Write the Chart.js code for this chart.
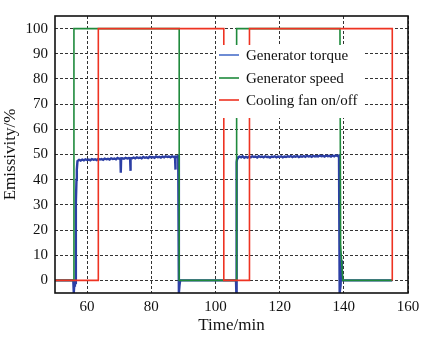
<!DOCTYPE html>
<html>
<head>
<meta charset="utf-8">
<script src="https://cdn.jsdelivr.net/npm/chart.js@4.4.0/dist/chart.umd.min.js"></script>
<style>
    html, body { margin: 0; padding: 0; background: #fff; }
    #wrap { width: 433px; height: 342px; }
</style>
</head>
<body>
<div id="wrap"><canvas id="chart" width="433" height="342"></canvas></div>
<script>
// Cooling fan on/off (step signal)
const fanTime = [50, 63.5, 63.5, 102.6, 102.6, 110.6, 110.6, 155.1, 155.1];
const fanValue = [0, 0, 100, 100, 0, 0, 100, 100, 0];

// Generator speed
const speedTime = [50, 55.9, 55.9, 88.7, 88.7, 106.6, 106.6, 138.8, 139.0, 139.7, 155.1];
const speedValue = [0, 0, 100, 100, 0, 0, 100, 100, 14, 0, 0];

// Generator torque
const torqueTime = [
    50, 55.7, 55.8, 55.9, 56.0, 56.2, 56.3, 56.5, 56.7, 56.8,
    57.0, 57.5, 58.0, 58.5, 59.0, 59.5, 60.0, 60.5, 61.0, 61.5, 62.0, 62.5,
    63.0, 63.5, 64.0, 64.5, 65.0, 65.5, 66.0, 66.5, 67.0, 67.5, 68.0, 68.5,
    69.0, 69.5, 70.0, 70.4, 70.5, 70.6, 71.0, 71.5, 72.0, 72.5, 73.0, 73.4, 73.5, 73.6, 74.0, 74.5,
    75.0, 75.5, 76.0, 76.5, 77.0, 77.5, 78.0, 78.5, 79.0, 79.5, 80.0, 80.5,
    81.0, 81.5, 82.0, 82.5, 83.0, 83.5, 84.0, 84.5, 85.0, 85.5, 86.0, 86.5,
    87.0, 87.4, 87.5, 87.6, 88.0, 88.4, 88.6, 88.8, 89.0,
    106.4, 106.5, 106.6, 106.8,
    107.0, 107.5, 108.0, 108.5, 109.0, 109.5, 110.0, 110.5, 111.0, 111.5,
    112.0, 112.5, 113.0, 113.5, 114.0, 114.5, 115.0, 115.5, 116.0, 116.5,
    117.0, 117.5, 118.0, 118.5, 119.0, 119.5, 120.0, 120.5, 121.0, 121.5,
    122.0, 122.5, 123.0, 123.5, 124.0, 124.5, 125.0, 125.5, 126.0, 126.5,
    127.0, 127.5, 128.0, 128.5, 129.0, 129.5, 130.0, 130.5, 131.0, 131.5,
    132.0, 132.5, 133.0, 133.5, 134.0, 134.5, 135.0, 135.5, 136.0, 136.5,
    137.0, 137.5, 138.0, 138.5, 138.7, 139.0, 139.2, 139.4, 155.1
];
const torqueValue = [
    0, 0, -2, -5, -2, -1.5, -1, 31, 40, 44,
    47.4, 47.9, 47.6, 48.0, 47.7, 48.1, 47.8, 48.0, 47.7, 48.2, 47.9, 48.1,
    47.8, 48.3, 48.0, 48.2, 47.9, 48.4, 48.1, 48.3, 48.0, 48.5, 48.2, 48.4,
    48.1, 48.6, 48.3, 48.4, 42.8, 48.2, 48.5, 48.3, 48.7, 48.4, 48.6, 48.5, 43.5, 48.4, 48.5, 48.8,
    48.5, 48.9, 48.6, 48.8, 48.5, 49.0, 48.7, 48.9, 48.6, 49.1, 48.8, 49.0,
    48.7, 49.2, 48.9, 49.1, 48.8, 49.2, 48.9, 49.3, 49.0, 49.2, 48.9, 49.3,
    49.0, 49.1, 44.0, 49.0, 49.1, 49.4, -5, -2, 0,
    0, -4.5, 47, 48.6,
    48.8, 49.2, 48.9, 49.3, 48.7, 49.1, 48.8, 49.2, 48.9, 49.3,
    49.0, 49.2, 48.8, 49.3, 49.0, 49.2, 48.9, 49.3, 49.0, 49.1,
    48.8, 49.2, 49.0, 49.3, 48.9, 49.2, 49.0, 49.3, 48.9, 49.2,
    49.0, 49.3, 49.1, 49.4, 49.0, 49.3, 49.1, 49.4, 49.0, 49.3,
    49.1, 49.4, 49.1, 49.5, 49.2, 49.4, 49.1, 49.5, 49.2, 49.4,
    49.2, 49.6, 49.3, 49.5, 49.2, 49.6, 49.3, 49.5, 49.2, 49.6,
    49.3, 49.7, 49.4, 49.6, -5, -2, 8, 0, 0
];

const xTicks = [60, 80, 100, 120, 140, 160];
const yTicks = [0, 10, 20, 30, 40, 50, 60, 70, 80, 90, 100];

const seriesNames = ["Generator torque", "Generator speed", "Cooling fan on/off"];
const seriesColors = ["#2c3fa5", "#1f8a3c", "#ee3322"];
const legendColors = ["#4a6fc9", "#1f8a3c", "#ee3322"];

const serif = "'Liberation Serif', 'DejaVu Serif', serif";

function toPoints(xs, ys) {
    return xs.map((x, i) => ({ x: x, y: ys[i] }));
}

// white legend box drawn on top of the lines, inside the plot
const boxLegend = {
    id: "boxLegend",
    afterDatasetsDraw(chart) {
        const ctx = chart.ctx;
        ctx.save();
        ctx.fillStyle = "#fff";
        ctx.fillRect(216, 45, 147, 73);
        ctx.font = "15px " + serif;
        ctx.textBaseline = "middle";
        ctx.textAlign = "left";
        const rows = [55, 78, 100];
        seriesNames.forEach((name, i) => {
            ctx.strokeStyle = legendColors[i];
            ctx.lineWidth = 1.6;
            ctx.beginPath();
            ctx.moveTo(219, rows[i]);
            ctx.lineTo(239, rows[i]);
            ctx.stroke();
            ctx.fillStyle = "#111";
            ctx.fillText(name, 246, rows[i] + 1);
        });
        ctx.restore();
    },
    afterDraw(chart) {
        // full box frame round the plot
        const a = chart.chartArea;
        const ctx = chart.ctx;
        ctx.save();
        ctx.strokeStyle = "#111";
        ctx.lineWidth = 1.6;
        ctx.strokeRect(a.left, a.top, a.right - a.left, a.bottom - a.top);
        ctx.restore();
    },
};

const lineStyle = (i) => ({
    borderColor: seriesColors[i],
    backgroundColor: seriesColors[i],
    borderWidth: 1.6,
    pointRadius: 0,
    tension: 0,
    fill: false,
});

new Chart(document.getElementById("chart"), {
    type: "line",
    data: {
        datasets: [
            Object.assign({ label: seriesNames[2], data: toPoints(fanTime, fanValue), order: 0 }, lineStyle(2)),
            Object.assign({ label: seriesNames[1], data: toPoints(speedTime, speedValue), order: 1 }, lineStyle(1)),
            Object.assign({ label: seriesNames[0], data: toPoints(torqueTime, torqueValue), order: 2 }, lineStyle(0), { borderWidth: 2.4 }),
        ],
    },
    options: {
        responsive: false,
        animation: false,
        layout: { padding: { left: 0, top: 14, right: 25, bottom: 0 } },
        plugins: {
            legend: { display: false },
            tooltip: { enabled: false },
        },
        scales: {
            x: {
                type: "linear",
                min: 50,
                max: 160,
                afterBuildTicks: (s) => { s.ticks = xTicks.map((v) => ({ value: v })); },
                afterFit: (s) => { s.height = 49; },
                grid: { color: "#333", lineWidth: 1, drawTicks: false },
                border: { display: false, dash: [3, 2] },
                ticks: { color: "#111", padding: 5, font: { family: serif, size: 15 }, maxRotation: 0 },
                title: { display: true, text: "Time/min", color: "#111", font: { family: serif, size: 17 }, padding: { top: 0, bottom: 6 } },
            },
            y: {
                min: -5,
                max: 105,
                afterBuildTicks: (s) => { s.ticks = yTicks.map((v) => ({ value: v })); },
                afterFit: (s) => { s.width = 55; },
                grid: { color: "#333", lineWidth: 1, drawTicks: false },
                border: { display: false, dash: [3, 2] },
                ticks: { color: "#111", padding: 7, font: { family: serif, size: 15 } },
                title: { display: true, text: "Emissivity/%", color: "#111", font: { family: serif, size: 17 }, padding: { top: 0, bottom: 3 } },
            },
        },
    },
    plugins: [boxLegend],
});
</script>
</body>
</html>
